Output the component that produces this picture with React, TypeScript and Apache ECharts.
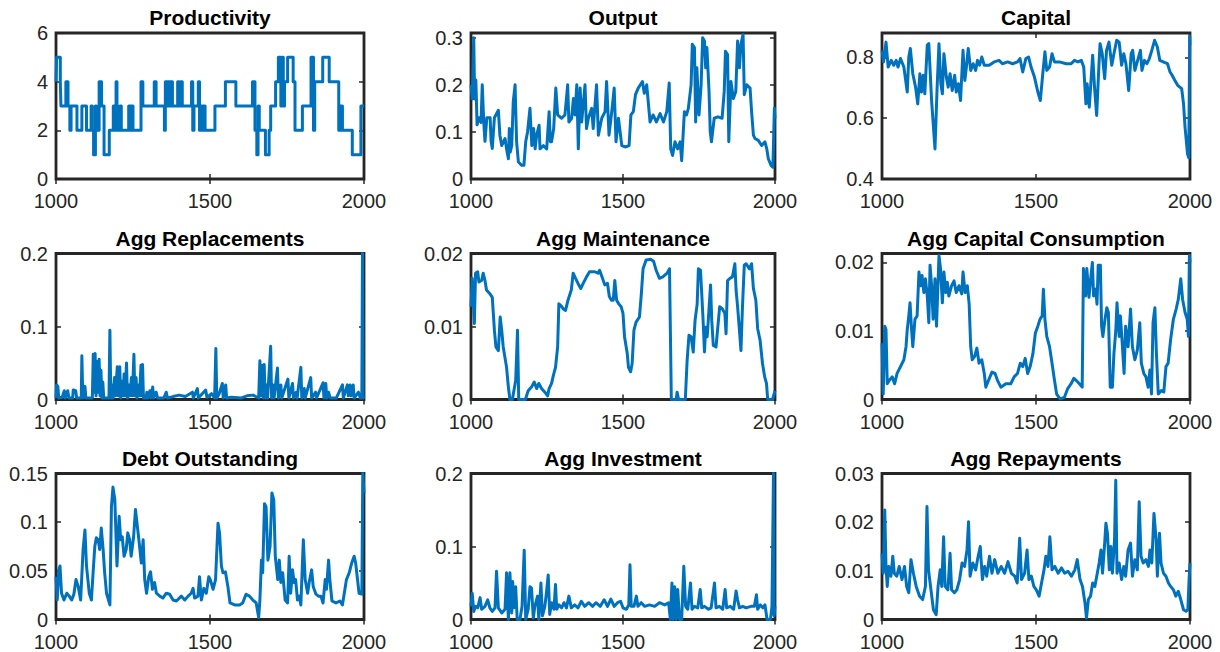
import React, { useEffect, useRef } from "react";
import * as echarts from "echarts";

type Pt = [number, number];

// Simulated paths, periods 1000–2000
const productivity: Pt[] = [
  [1000, 4], [1002, 5], [1014, 4], [1016, 3], [1032, 4], [1039, 3], [1045, 2], [1049, 3], [1068, 2], [1084, 3],
  [1099, 2], [1114, 3], [1118, 2], [1122, 1], [1128, 3], [1131, 2], [1140, 4], [1148, 3], [1156, 1], [1173, 2],
  [1186, 3], [1190, 2], [1195, 4], [1198, 2], [1207, 3], [1212, 2], [1236, 3], [1242, 2], [1246, 3], [1250, 2],
  [1276, 4], [1282, 3], [1319, 4], [1325, 3], [1352, 2], [1355, 4], [1360, 3], [1364, 4], [1368, 3], [1372, 4],
  [1378, 3], [1395, 4], [1399, 3], [1404, 4], [1410, 3], [1440, 4], [1444, 2], [1448, 3], [1462, 4], [1466, 2],
  [1471, 3], [1475, 2], [1478, 3], [1484, 2], [1516, 3], [1550, 4], [1584, 3], [1638, 4], [1646, 2], [1652, 1],
  [1656, 3], [1660, 2], [1680, 1], [1692, 2], [1697, 3], [1713, 4], [1722, 5], [1730, 3], [1734, 5], [1738, 3],
  [1742, 4], [1752, 5], [1770, 4], [1776, 2], [1800, 3], [1828, 5], [1836, 2], [1840, 4], [1866, 5], [1887, 4],
  [1918, 2], [1923, 3], [1930, 2], [1962, 1], [1990, 3], [2000, 3],
];

const output: Pt[] = [
  [1000, 0.2], [1004, 0.17], [1009, 0.3], [1012, 0.17], [1016, 0.21], [1020, 0.115], [1026, 0.13], [1033, 0.12], [1037, 0.2], [1042, 0.12],
  [1046, 0.08], [1052, 0.13], [1063, 0.13], [1066, 0.08], [1070, 0.065], [1077, 0.13], [1090, 0.146], [1095, 0.093], [1101, 0.071], [1112, 0.086],
  [1117, 0.064], [1123, 0.043], [1126, 0.107], [1129, 0.057], [1134, 0.071], [1139, 0.164], [1145, 0.2], [1150, 0.079], [1156, 0.036], [1167, 0.029],
  [1174, 0.029], [1180, 0.079], [1186, 0.1], [1194, 0.15], [1200, 0.071], [1206, 0.107], [1211, 0.064], [1216, 0.093], [1224, 0.114], [1227, 0.064],
  [1238, 0.071], [1249, 0.064], [1257, 0.143], [1261, 0.079], [1265, 0.079], [1272, 0.107], [1279, 0.193], [1285, 0.136], [1298, 0.129], [1309, 0.136],
  [1318, 0.2], [1322, 0.121], [1331, 0.129], [1337, 0.171], [1342, 0.136], [1348, 0.2], [1353, 0.064], [1359, 0.193], [1364, 0.121], [1375, 0.2],
  [1380, 0.107], [1386, 0.129], [1397, 0.15], [1402, 0.107], [1413, 0.2], [1419, 0.093], [1430, 0.129], [1441, 0.143], [1446, 0.207], [1454, 0.093],
  [1463, 0.143], [1471, 0.193], [1477, 0.079], [1485, 0.129], [1496, 0.071], [1507, 0.068], [1520, 0.071], [1526, 0.136], [1534, 0.143], [1541, 0.179],
  [1550, 0.193], [1564, 0.207], [1570, 0.182], [1578, 0.2], [1589, 0.121], [1599, 0.136], [1610, 0.121], [1622, 0.139], [1633, 0.121], [1644, 0.143],
  [1652, 0.204], [1657, 0.064], [1663, 0.05], [1671, 0.079], [1680, 0.064], [1688, 0.079], [1693, 0.039], [1702, 0.143], [1709, 0.136], [1715, 0.15],
  [1724, 0.2], [1728, 0.286], [1735, 0.279], [1739, 0.121], [1743, 0.236], [1750, 0.136], [1757, 0.2], [1762, 0.3], [1768, 0.293], [1772, 0.236],
  [1776, 0.279], [1783, 0.186], [1787, 0.1], [1791, 0.079], [1800, 0.129], [1812, 0.132], [1826, 0.129], [1833, 0.186], [1837, 0.271], [1844, 0.264],
  [1848, 0.079], [1855, 0.207], [1863, 0.171], [1871, 0.186], [1877, 0.293], [1883, 0.236], [1888, 0.286], [1895, 0.307], [1899, 0.179], [1907, 0.2],
  [1918, 0.193], [1923, 0.143], [1929, 0.093], [1934, 0.086], [1945, 0.082], [1956, 0.071], [1967, 0.079], [1973, 0.064], [1978, 0.043], [1987, 0.029],
  [1993, 0.025], [1998, 0.15], [2000, 0.129],
];

const capital: Pt[] = [
  [1000, 0.823], [1005, 0.785], [1013, 0.85], [1020, 0.768], [1030, 0.79], [1038, 0.774], [1046, 0.79], [1052, 0.768], [1060, 0.796], [1071, 0.768],
  [1082, 0.686], [1087, 0.801], [1092, 0.829], [1100, 0.746], [1109, 0.702], [1116, 0.647], [1123, 0.746], [1128, 0.686], [1134, 0.741], [1139, 0.68],
  [1147, 0.84], [1152, 0.845], [1161, 0.658], [1172, 0.499], [1179, 0.702], [1185, 0.845], [1191, 0.713], [1196, 0.68], [1201, 0.812], [1209, 0.735],
  [1215, 0.702], [1221, 0.746], [1228, 0.691], [1236, 0.741], [1241, 0.686], [1248, 0.713], [1255, 0.658], [1263, 0.823], [1269, 0.724], [1274, 0.768],
  [1280, 0.829], [1288, 0.757], [1296, 0.779], [1304, 0.757], [1310, 0.79], [1317, 0.774], [1324, 0.801], [1332, 0.774], [1348, 0.774], [1364, 0.785],
  [1380, 0.79], [1391, 0.779], [1408, 0.785], [1424, 0.779], [1440, 0.785], [1448, 0.796], [1457, 0.752], [1467, 0.796], [1476, 0.801], [1484, 0.768],
  [1495, 0.735], [1506, 0.686], [1514, 0.658], [1522, 0.746], [1529, 0.818], [1535, 0.757], [1544, 0.768], [1552, 0.812], [1560, 0.785], [1576, 0.785],
  [1598, 0.779], [1614, 0.779], [1625, 0.79], [1636, 0.785], [1647, 0.79], [1655, 0.768], [1662, 0.647], [1666, 0.713], [1673, 0.636], [1678, 0.713],
  [1684, 0.807], [1690, 0.702], [1697, 0.609], [1704, 0.768], [1708, 0.845], [1715, 0.812], [1723, 0.73], [1729, 0.823], [1737, 0.85], [1746, 0.774],
  [1753, 0.812], [1762, 0.856], [1770, 0.85], [1778, 0.774], [1785, 0.812], [1792, 0.779], [1801, 0.691], [1809, 0.812], [1814, 0.823], [1821, 0.757],
  [1830, 0.79], [1839, 0.823], [1844, 0.757], [1852, 0.79], [1860, 0.779], [1868, 0.796], [1876, 0.823], [1885, 0.856], [1894, 0.834], [1902, 0.79],
  [1913, 0.785], [1927, 0.779], [1935, 0.752], [1942, 0.741], [1951, 0.724], [1960, 0.708], [1973, 0.697], [1979, 0.647], [1984, 0.57], [1992, 0.482],
  [1996, 0.47], [1999, 0.87], [2000, 0.84],
];

const aggReplacements: Pt[] = [
  [1000, 0.002], [1002, 0.02], [1006, 0.018], [1009, 0.002], [1020, 0.003], [1027, 0.012], [1030, 0.002], [1038, 0.012], [1042, 0.002], [1054, 0.002],
  [1056, 0.013], [1064, 0.012], [1067, 0.002], [1082, 0.002], [1084, 0.06], [1087, 0.002], [1094, 0.018], [1097, 0.002], [1118, 0.002], [1121, 0.062],
  [1124, 0.01], [1127, 0.063], [1130, 0.005], [1134, 0.052], [1137, 0.01], [1140, 0.055], [1143, 0.005], [1146, 0.04], [1149, 0.002], [1152, 0.024],
  [1155, 0.002], [1172, 0.002], [1175, 0.095], [1178, 0.002], [1182, 0.02], [1185, 0.002], [1190, 0.03], [1193, 0.005], [1199, 0.045], [1202, 0.005],
  [1207, 0.045], [1210, 0.002], [1215, 0.025], [1218, 0.005], [1221, 0.035], [1224, 0.005], [1229, 0.05], [1232, 0.002], [1237, 0.02], [1240, 0.005],
  [1245, 0.03], [1248, 0.005], [1253, 0.062], [1256, 0.005], [1260, 0.03], [1263, 0.002], [1268, 0.02], [1271, 0.005], [1276, 0.047], [1278, 0.005],
  [1281, 0.048], [1284, 0.002], [1292, 0.002], [1295, 0.01], [1298, 0.002], [1305, 0.012], [1308, 0.002], [1314, 0.017], [1317, 0.002], [1325, 0.01],
  [1330, 0.002], [1350, 0.002], [1358, 0.01], [1362, 0.002], [1380, 0.004], [1400, 0.006], [1420, 0.004], [1443, 0.01], [1446, 0.002], [1459, 0.015],
  [1462, 0.002], [1486, 0.013], [1490, 0.003], [1505, 0.008], [1515, 0.002], [1519, 0.07], [1522, 0.002], [1530, 0.008], [1540, 0.022], [1543, 0.002],
  [1551, 0.02], [1554, 0.002], [1570, 0.003], [1600, 0.002], [1620, 0.005], [1640, 0.006], [1658, 0.002], [1662, 0.053], [1665, 0.005], [1670, 0.047],
  [1673, 0.002], [1676, 0.048], [1679, 0.002], [1684, 0.02], [1687, 0.002], [1697, 0.073], [1700, 0.002], [1705, 0.02], [1708, 0.002], [1719, 0.043],
  [1722, 0.002], [1730, 0.02], [1733, 0.002], [1753, 0.028], [1756, 0.002], [1768, 0.022], [1771, 0.002], [1780, 0.01], [1783, 0.002], [1795, 0.044],
  [1798, 0.002], [1806, 0.015], [1809, 0.002], [1827, 0.03], [1830, 0.002], [1843, 0.01], [1846, 0.002], [1867, 0.023], [1870, 0.002], [1876, 0.022],
  [1879, 0.002], [1885, 0.01], [1890, 0.002], [1910, 0.002], [1930, 0.02], [1933, 0.002], [1946, 0.02], [1949, 0.005], [1955, 0.02], [1958, 0.005],
  [1965, 0.02], [1968, 0.002], [1982, 0.01], [1988, 0.002], [1993, 0.002], [1995, 0.2], [1997, 0.002], [2000, 0.005],
];

const aggMaintenance: Pt[] = [
  [1000, 0.0127], [1004, 0.0166], [1008, 0.0131], [1011, 0.0104], [1015, 0.0173], [1022, 0.0175], [1026, 0.0161], [1035, 0.0163], [1040, 0.0173], [1046, 0.0163],
  [1051, 0.015], [1062, 0.0145], [1070, 0.014], [1077, 0.0095], [1082, 0.0072], [1090, 0.0067], [1096, 0.0113], [1101, 0.0095], [1106, 0.0072], [1117, 0.0044],
  [1123, 0.0017], [1128, 0], [1136, 0], [1147, 0.0026], [1153, 0.0095], [1157, 0], [1179, 0], [1188, 0.0012], [1199, 0.0017], [1208, 0.0024],
  [1216, 0.0015], [1223, 0.0022], [1232, 0.0015], [1243, 0.001], [1252, 0.0005], [1257, 0.0015], [1265, 0.0022], [1271, 0.0033], [1278, 0.0044], [1285, 0.0072],
  [1289, 0.0131], [1295, 0.0129], [1304, 0.0124], [1311, 0.0122], [1319, 0.0136], [1330, 0.015], [1336, 0.0173], [1344, 0.0166], [1352, 0.0159], [1361, 0.0152],
  [1369, 0.0159], [1380, 0.0168], [1390, 0.0175], [1407, 0.0175], [1418, 0.0173], [1423, 0.0177], [1431, 0.0168], [1440, 0.0157], [1449, 0.0159], [1455, 0.0141],
  [1462, 0.0136], [1468, 0.0136], [1473, 0.0163], [1479, 0.0136], [1486, 0.0131], [1494, 0.0127], [1500, 0.0118], [1505, 0.0086], [1514, 0.0063], [1518, 0.0044],
  [1525, 0.0038], [1530, 0.0049], [1536, 0.0095], [1543, 0.0106], [1554, 0.0113], [1560, 0.0143], [1566, 0.0179], [1576, 0.0191], [1592, 0.0192], [1601, 0.0189],
  [1609, 0.0177], [1620, 0.0166], [1631, 0.0168], [1645, 0.0173], [1653, 0.0179], [1659, 0], [1675, 0], [1678, 0.001], [1683, 0], [1705, 0],
  [1711, 0.0054], [1717, 0.0088], [1724, 0.0086], [1731, 0.0065], [1737, 0.0108], [1744, 0.0131], [1748, 0.0179], [1755, 0.0177], [1763, 0.0113], [1768, 0.0065],
  [1772, 0.0099], [1777, 0.0086], [1782, 0.0118], [1788, 0.0157], [1792, 0.0108], [1797, 0.0074], [1806, 0.0072], [1811, 0.0095], [1818, 0.0127], [1827, 0.0124],
  [1835, 0.0118], [1839, 0.009], [1844, 0.0163], [1852, 0.0166], [1860, 0.0168], [1868, 0.0186], [1872, 0.015], [1877, 0.0127], [1883, 0.0095], [1888, 0.0067],
  [1893, 0.0127], [1899, 0.0184], [1905, 0.0186], [1916, 0.0179], [1923, 0.0186], [1929, 0.0152], [1937, 0.0136], [1943, 0.0097], [1951, 0.0081], [1959, 0.0049],
  [1966, 0.0031], [1972, 0.0022], [1976, 0], [1992, 0], [2000, 0.0012],
];

const aggCapitalConsumption: Pt[] = [
  [1000, 0.0082], [1004, 0.0008], [1009, 0.0107], [1013, 0.0102], [1017, 0.0023], [1024, 0.0028], [1033, 0.0033], [1041, 0.0023], [1049, 0.0038], [1060, 0.0048],
  [1071, 0.0058], [1078, 0.0077], [1082, 0.0102], [1087, 0.0122], [1091, 0.0141], [1096, 0.0102], [1100, 0.0077], [1107, 0.0117], [1114, 0.0122], [1120, 0.0186],
  [1125, 0.0166], [1130, 0.0181], [1136, 0.0156], [1141, 0.0176], [1147, 0.0151], [1152, 0.0112], [1156, 0.0196], [1161, 0.0166], [1166, 0.0117], [1172, 0.0176],
  [1177, 0.0107], [1185, 0.021], [1190, 0.0191], [1196, 0.0141], [1201, 0.0186], [1207, 0.0156], [1212, 0.0171], [1217, 0.0151], [1226, 0.0166], [1234, 0.0173],
  [1241, 0.0156], [1250, 0.0166], [1259, 0.0154], [1263, 0.0186], [1270, 0.0156], [1277, 0.0166], [1283, 0.0139], [1288, 0.0077], [1293, 0.0058], [1301, 0.0063],
  [1308, 0.0075], [1315, 0.0053], [1324, 0.0058], [1332, 0.0038], [1337, 0.0018], [1346, 0.0028], [1357, 0.004], [1367, 0.0038], [1375, 0.0028], [1386, 0.0018],
  [1402, 0.0023], [1418, 0.0023], [1429, 0.0033], [1440, 0.0038], [1449, 0.0053], [1457, 0.0048], [1465, 0.006], [1473, 0.0038], [1481, 0.0048], [1490, 0.0067],
  [1498, 0.0097], [1506, 0.0107], [1513, 0.0117], [1520, 0.0122], [1524, 0.0161], [1529, 0.0117], [1535, 0.0092], [1544, 0.0077], [1552, 0.0053], [1560, 0.0028],
  [1567, 0.0008], [1578, 0.0001], [1592, 0.0003], [1603, 0.0016], [1614, 0.0023], [1623, 0.0031], [1630, 0.0028], [1641, 0.0023], [1650, 0.0018], [1654, 0.0191],
  [1661, 0.0151], [1665, 0.0191], [1672, 0.0149], [1678, 0.0178], [1683, 0.02], [1687, 0.0151], [1694, 0.0161], [1698, 0.0139], [1702, 0.0196], [1709, 0.0196],
  [1713, 0.0107], [1717, 0.0092], [1724, 0.0117], [1730, 0.0134], [1735, 0.0127], [1741, 0.0018], [1748, 0.0018], [1753, 0.0067], [1759, 0.01], [1763, 0.0141],
  [1770, 0.0092], [1774, 0.0122], [1780, 0.0082], [1786, 0.0038], [1791, 0.0107], [1799, 0.0077], [1807, 0.0132], [1813, 0.0077], [1821, 0.0058], [1829, 0.0072],
  [1837, 0.0112], [1842, 0.0053], [1850, 0.0038], [1857, 0.0033], [1864, 0.0018], [1870, 0.0043], [1875, 0.0008], [1880, 0.0112], [1886, 0.0134], [1891, 0.0067],
  [1897, 0.0008], [1907, 0.0013], [1915, 0.0011], [1922, 0.0048], [1929, 0.0053], [1937, 0.0087], [1946, 0.0117], [1955, 0.0132], [1962, 0.0146], [1970, 0.0176],
  [1976, 0.0146], [1984, 0.0127], [1991, 0.0117], [1995, 0.0092], [1998, 0.021], [2000, 0.02],
];

const debtOutstanding: Pt[] = [
  [1000, 0.044], [1004, 0.02], [1009, 0.051], [1013, 0.055], [1018, 0.027], [1026, 0.02], [1035, 0.027], [1043, 0.024], [1051, 0.02], [1058, 0.026],
  [1065, 0.041], [1072, 0.034], [1080, 0.02], [1088, 0.072], [1094, 0.092], [1099, 0.055], [1108, 0.027], [1115, 0.02], [1121, 0.051], [1126, 0.075],
  [1131, 0.084], [1137, 0.082], [1142, 0.072], [1147, 0.094], [1153, 0.072], [1158, 0.048], [1164, 0.027], [1175, 0.015], [1180, 0.116], [1185, 0.136],
  [1191, 0.123], [1198, 0.055], [1205, 0.106], [1210, 0.082], [1215, 0.085], [1221, 0.065], [1228, 0.072], [1233, 0.089], [1239, 0.082], [1244, 0.065],
  [1252, 0.085], [1258, 0.113], [1263, 0.099], [1269, 0.082], [1277, 0.058], [1283, 0.082], [1288, 0.041], [1294, 0.027], [1301, 0.044], [1307, 0.049],
  [1313, 0.031], [1320, 0.038], [1326, 0.027], [1337, 0.024], [1347, 0.022], [1358, 0.027], [1369, 0.026], [1380, 0.02], [1391, 0.019], [1407, 0.024],
  [1418, 0.02], [1429, 0.024], [1439, 0.027], [1445, 0.032], [1450, 0.022], [1461, 0.024], [1466, 0.044], [1472, 0.02], [1480, 0.032], [1488, 0.027],
  [1496, 0.044], [1501, 0.041], [1510, 0.031], [1518, 0.041], [1526, 0.099], [1531, 0.089], [1537, 0.055], [1542, 0.048], [1550, 0.049], [1558, 0.034],
  [1565, 0.017], [1580, 0.015], [1596, 0.015], [1606, 0.017], [1617, 0.026], [1628, 0.024], [1639, 0.02], [1650, 0.017], [1658, 0.002], [1662, 0.02],
  [1667, 0.061], [1671, 0.048], [1677, 0.119], [1682, 0.116], [1688, 0.061], [1695, 0.075], [1701, 0.13], [1707, 0.123], [1712, 0.065], [1720, 0.041],
  [1725, 0.061], [1730, 0.038], [1736, 0.048], [1744, 0.02], [1752, 0.017], [1757, 0.065], [1762, 0.027], [1768, 0.051], [1773, 0.038], [1778, 0.041],
  [1784, 0.02], [1790, 0.024], [1795, 0.015], [1803, 0.082], [1809, 0.041], [1817, 0.027], [1822, 0.038], [1830, 0.051], [1835, 0.034], [1844, 0.026],
  [1852, 0.024], [1860, 0.024], [1867, 0.017], [1874, 0.041], [1878, 0.031], [1885, 0.061], [1889, 0.041], [1896, 0.019], [1909, 0.017], [1922, 0.019],
  [1930, 0.015], [1936, 0.027], [1943, 0.041], [1952, 0.048], [1960, 0.058], [1968, 0.065], [1973, 0.058], [1979, 0.041], [1984, 0.027], [1993, 0.026],
  [1996, 0.15], [2000, 0.13],
];

const aggInvestment: Pt[] = [
  [1000, 0.018], [1004, 0.036], [1009, 0.011], [1015, 0.018], [1022, 0.016], [1030, 0.03], [1035, 0.014], [1046, 0.018], [1055, 0.027], [1062, 0.016],
  [1070, 0.011], [1079, 0.016], [1084, 0.066], [1090, 0.016], [1101, 0.009], [1112, 0.014], [1117, 0.064], [1123, 0], [1128, 0.064], [1134, 0.009],
  [1137, 0.052], [1141, 0.016], [1147, 0.045], [1152, 0], [1161, 0], [1168, 0.018], [1175, 0.095], [1180, 0], [1188, 0.014], [1194, 0.045],
  [1199, 0.043], [1205, 0.002], [1210, 0.018], [1219, 0.032], [1223, 0], [1230, 0.05], [1235, 0.005], [1243, 0.018], [1248, 0.036], [1254, 0.061],
  [1259, 0.007], [1265, 0.023], [1273, 0.014], [1278, 0.048], [1282, 0.014], [1289, 0.02], [1298, 0.016], [1306, 0.023], [1314, 0.016], [1322, 0.032],
  [1330, 0.016], [1341, 0.02], [1352, 0.016], [1363, 0.025], [1374, 0.018], [1387, 0.023], [1400, 0.018], [1411, 0.023], [1425, 0.018], [1438, 0.027],
  [1449, 0.018], [1460, 0.028], [1471, 0.018], [1482, 0.023], [1492, 0.025], [1500, 0.016], [1511, 0.014], [1519, 0.02], [1523, 0.075], [1527, 0.018],
  [1536, 0.018], [1544, 0.032], [1549, 0.018], [1560, 0.023], [1571, 0.018], [1587, 0.02], [1604, 0.018], [1620, 0.023], [1637, 0.02], [1650, 0.023],
  [1656, 0], [1661, 0.05], [1665, 0], [1670, 0.045], [1675, 0], [1680, 0.041], [1686, 0], [1693, 0], [1700, 0.073], [1706, 0.018],
  [1713, 0.014], [1722, 0.05], [1727, 0.014], [1735, 0.018], [1746, 0.016], [1754, 0.041], [1759, 0.016], [1768, 0.018], [1781, 0.014], [1790, 0.016],
  [1801, 0.05], [1806, 0.016], [1817, 0.018], [1828, 0.014], [1836, 0.041], [1841, 0.016], [1853, 0.018], [1864, 0.014], [1872, 0.039], [1877, 0.027],
  [1883, 0.016], [1894, 0.018], [1905, 0.016], [1921, 0.018], [1932, 0.018], [1939, 0.034], [1943, 0.014], [1952, 0.02], [1960, 0.016], [1967, 0.02],
  [1974, 0], [1985, 0], [1990, 0.018], [1995, 0.2], [1997, 0.005], [2000, 0.018],
];

const aggRepayments: Pt[] = [
  [1000, 0.0136], [1004, 0.0095], [1009, 0.0225], [1013, 0.0109], [1017, 0.0068], [1022, 0.0109], [1029, 0.0089], [1035, 0.013], [1040, 0.0095], [1048, 0.0089],
  [1056, 0.0109], [1065, 0.0082], [1073, 0.0109], [1080, 0.0068], [1087, 0.0055], [1094, 0.0123], [1102, 0.0095], [1111, 0.0068], [1122, 0.0048], [1132, 0.0041],
  [1141, 0.0068], [1146, 0.0232], [1151, 0.0102], [1159, 0.0061], [1167, 0.002], [1176, 0.001], [1182, 0.0068], [1189, 0.0102], [1194, 0.0068], [1200, 0.017],
  [1205, 0.0068], [1214, 0.0061], [1221, 0.0136], [1226, 0.0061], [1235, 0.0055], [1243, 0.0061], [1252, 0.0082], [1260, 0.0116], [1268, 0.0109], [1276, 0.0143],
  [1281, 0.0201], [1286, 0.0089], [1295, 0.0116], [1304, 0.0102], [1311, 0.0126], [1319, 0.015], [1326, 0.0082], [1333, 0.0109], [1340, 0.0089], [1349, 0.013],
  [1357, 0.0095], [1366, 0.0123], [1376, 0.0095], [1387, 0.0109], [1398, 0.0095], [1409, 0.0119], [1420, 0.0095], [1431, 0.0089], [1439, 0.0075], [1447, 0.0167],
  [1453, 0.0082], [1463, 0.0095], [1471, 0.0143], [1477, 0.0082], [1485, 0.0089], [1493, 0.0068], [1501, 0.0061], [1510, 0.0048], [1518, 0.0075], [1526, 0.0102],
  [1532, 0.013], [1539, 0.0109], [1545, 0.017], [1552, 0.0102], [1561, 0.0109], [1572, 0.0095], [1583, 0.0106], [1593, 0.0095], [1604, 0.0099], [1615, 0.0089],
  [1626, 0.0102], [1634, 0.0123], [1643, 0.0082], [1651, 0.0068], [1659, 0.0034], [1664, 0.0003], [1670, 0.0041], [1677, 0.0048], [1684, 0.0075], [1691, 0.0068],
  [1699, 0.0095], [1705, 0.0116], [1711, 0.0143], [1716, 0.0095], [1723, 0.0157], [1727, 0.0198], [1732, 0.0177], [1738, 0.0102], [1743, 0.015], [1748, 0.0095],
  [1755, 0.0164], [1759, 0.0286], [1763, 0.0095], [1770, 0.0116], [1778, 0.0082], [1785, 0.0109], [1791, 0.0089], [1799, 0.0143], [1807, 0.0157], [1813, 0.0089],
  [1821, 0.0123], [1829, 0.0102], [1835, 0.0242], [1841, 0.013], [1848, 0.0116], [1857, 0.0123], [1865, 0.0109], [1870, 0.0143], [1876, 0.0116], [1883, 0.0218],
  [1890, 0.0164], [1894, 0.0089], [1901, 0.0177], [1906, 0.0116], [1914, 0.0095], [1922, 0.0089], [1930, 0.0075], [1937, 0.0068], [1946, 0.0061], [1954, 0.0048],
  [1962, 0.0058], [1970, 0.0041], [1979, 0.002], [1987, 0.0017], [1993, 0.002], [1997, 0.0082], [2000, 0.0116],
];

const panelTitles = [
  "Productivity", "Output", "Capital",
  "Agg Replacements", "Agg Maintenance", "Agg Capital Consumption",
  "Debt Outstanding", "Agg Investment", "Agg Repayments",
];
const panelData: Pt[][] = [
  productivity, output, capital,
  aggReplacements, aggMaintenance, aggCapitalConsumption,
  debtOutstanding, aggInvestment, aggRepayments,
];
const yMin = [0, 0, 0.4, 0, 0, 0, 0, 0, 0];
const yMax = [6, 0.31, 0.88, 0.2, 0.02, 0.0213, 0.15, 0.2, 0.03];
const yStep = [2, 0.1, 0.2, 0.1, 0.01, 0.01, 0.05, 0.1, 0.01];
const yTickLabels = [
  [0, 2, 4, 6], [0, 0.1, 0.2, 0.3], [0.4, 0.6, 0.8],
  [0, 0.1, 0.2], [0, 0.01, 0.02], [0, 0.01, 0.02],
  [0, 0.05, 0.1, 0.15], [0, 0.1, 0.2], [0, 0.01, 0.02, 0.03],
];
const xTickLabels = [1000, 1500, 2000];

const LINE_BLUE = "#0072BD";
const AXIS_GREY = "#262626";
const FONT = '"Liberation Sans", Arial, Helvetica, sans-serif';
const colLeft = [56, 471, 882];
const colWidth = [308, 304, 308];
const rowTop = [33, 253.5, 473.5];
const rowHeight = 146;

function onlyTicks(ticks: number[]) {
  return (v: number) =>
    ticks.some((t) => Math.abs(t - v) < 1e-9) ? String(+v.toFixed(4)) : "";
}

function buildOption() {
  const grid: any[] = [];
  const xAxis: any[] = [];
  const yAxis: any[] = [];
  const series: any[] = [];
  const graphic: any[] = [];

  const tick = { show: true, inside: true, length: 5, lineStyle: { color: AXIS_GREY, width: 1.5 } };
  const labelStyle = { fontSize: 20, color: AXIS_GREY, fontFamily: FONT };

  panelTitles.forEach((title, i) => {
    const r = Math.floor(i / 3);
    const c = i % 3;
    const left = colLeft[c];
    const top = rowTop[r];
    const width = colWidth[c];

    grid.push({
      left, top, width, height: rowHeight,
      show: true, borderColor: AXIS_GREY, borderWidth: 2.8, backgroundColor: "transparent",
    });

    const xBase = {
      type: "value", gridIndex: i, min: 1000, max: 2000, interval: 500,
      axisLine: { show: false }, splitLine: { show: false }, axisTick: tick,
    };
    xAxis.push({
      ...xBase, position: "bottom",
      axisLabel: { ...labelStyle, margin: 12, formatter: onlyTicks(xTickLabels) },
    });
    xAxis.push({ ...xBase, position: "top", axisLabel: { show: false } });

    const yBase = {
      type: "value", gridIndex: i, min: yMin[i], max: yMax[i], interval: yStep[i],
      axisLine: { show: false }, splitLine: { show: false }, axisTick: tick,
    };
    yAxis.push({
      ...yBase, position: "left",
      axisLabel: { ...labelStyle, margin: 8, formatter: onlyTicks(yTickLabels[i]) },
    });
    yAxis.push({ ...yBase, position: "right", axisLabel: { show: false } });

    series.push({
      type: "line",
      name: title,
      xAxisIndex: 2 * i,
      yAxisIndex: 2 * i,
      data: panelData[i],
      step: i === 0 ? "end" : false,
      showSymbol: false,
      symbol: "none",
      clip: false,
      z: 3,
      lineStyle: { color: LINE_BLUE, width: 3, join: "round" },
      itemStyle: { color: LINE_BLUE },
    });

    graphic.push({
      type: "text",
      x: left + width / 2,
      y: top - 15.3,
      style: {
        text: title,
        align: "center",
        verticalAlign: "middle",
        textAlign: "center",
        textVerticalAlign: "middle",
        fontSize: 21,
        fontWeight: "bold",
        fontFamily: FONT,
        fill: "#000000",
      },
    });
  });

  return {
    animation: false,
    backgroundColor: "#ffffff",
    grid,
    xAxis,
    yAxis,
    series,
    graphic,
  };
}

export default function App() {
  const ref = useRef<HTMLDivElement>(null);

  useEffect(() => {
    if (!ref.current) return;
    const chart = echarts.init(ref.current, undefined, { renderer: "svg" });
    chart.setOption(buildOption() as any);
    return () => chart.dispose();
  }, []);

  return (
    <div
      ref={ref}
      style={{ position: "absolute", left: 0, top: 0, width: 1220, height: 652, background: "#fff" }}
    />
  );
}
